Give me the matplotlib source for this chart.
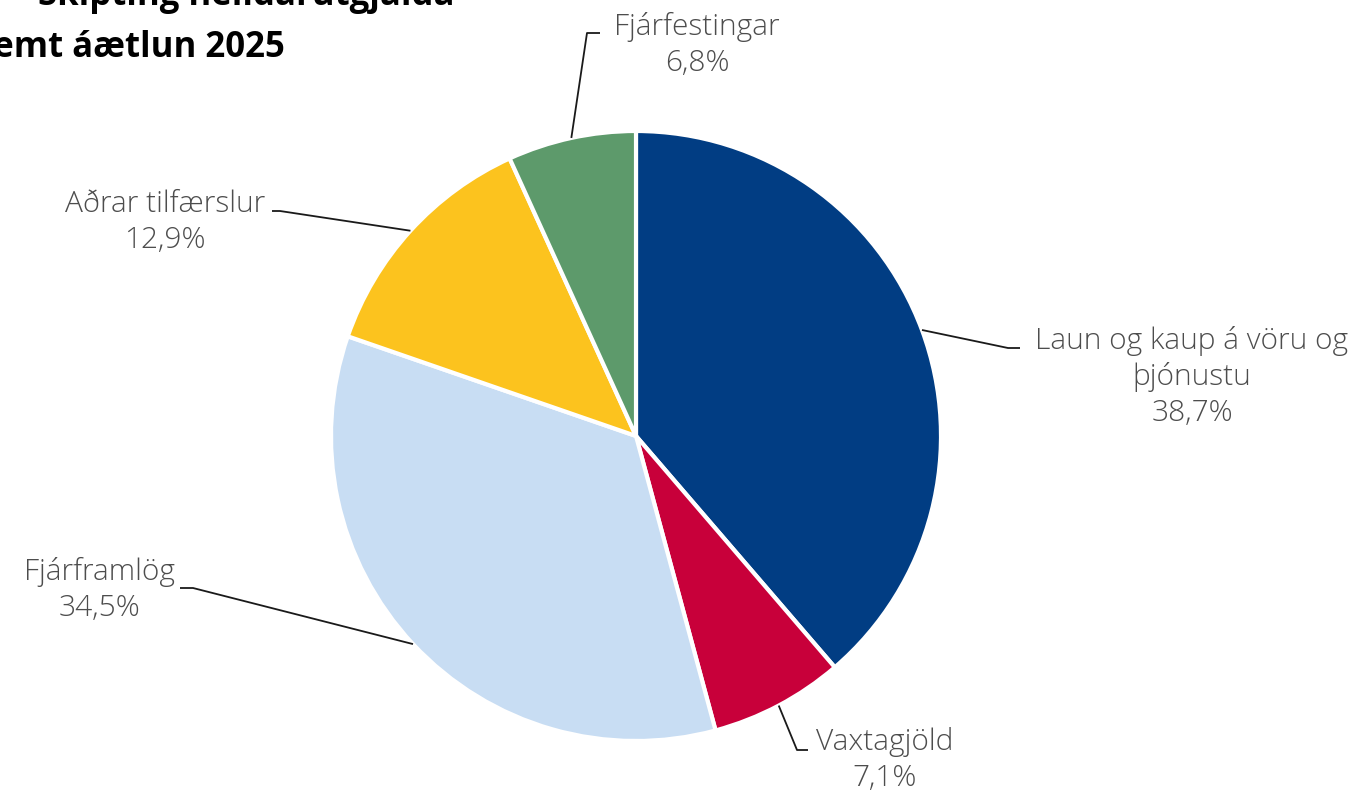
import matplotlib
matplotlib.use("Agg")
import matplotlib.pyplot as plt
import numpy as np

categories = ["Laun og kaup á vöru og\nþjónustu", "Vaxtagjöld", "Fjárframlög", "Aðrar tilfærslur", "Fjárfestingar"]
values = [38.7, 7.1, 34.5, 12.9, 6.8]
value_labels = ["38,7%", "7,1%", "34,5%", "12,9%", "6,8%"]
colors = ["#013D83", "#C8003A", "#C8DDF3", "#FCC31E", "#5D9A6B"]
title_lines = ["Skipting heildarútgjalda", "samkvæmt áætlun 2025"]

W, H = 1364, 795
fig = plt.figure(figsize=(W / 100, H / 100), dpi=100)
ax = fig.add_axes([0, 0, 1, 1])
cx, cy, R = 636, 436, 305

wedges, _ = ax.pie(values, colors=colors, startangle=90, counterclock=False,
                   radius=1, center=(0, 0),
                   wedgeprops=dict(edgecolor="white", linewidth=3))
ax.set_xlim((0 - cx) / R, (W - cx) / R)
ax.set_ylim((cy - H) / R, cy / R)
ax.axis("off")

def d(px, py):
    return ((px - cx) / R, (cy - py) / R)

# label layout: text centre, leader elbow, leader end (pixel coords)
layout = [
    ((1192, 377), (1008, 348), (1020, 348)),
    ((885, 760), (797, 750), (808, 750)),
    ((100, 590), (193, 588), (180, 588)),
    ((165, 222), (280, 211), (272, 211)),
    ((697, 45), (587, 33), (600, 33)),
]

txt_kw = dict(family=["Open Sans", "DejaVu Sans"], fontweight="light",
              color="#4d4d4d", fontsize=21.5, ha="center", va="center",
              linespacing=1.28)

for w, cat, vl, (tc, el, en) in zip(wedges, categories, value_labels, layout):
    ang = np.deg2rad((w.theta1 + w.theta2) / 2)
    sx, sy = np.cos(ang), np.sin(ang)
    ex, ey = d(*el)
    nx, ny = d(*en)
    ax.plot([sx, ex, nx], [sy, ey, ny], color="#1a1a1a", lw=1.3, solid_capstyle="butt")
    tx, ty = d(*tc)
    ax.text(tx, ty, f"{cat}\n{vl}", **txt_kw)

title_kw = dict(family=["Open Sans", "DejaVu Sans"], fontweight="bold",
                color="black", fontsize=25, ha="right", va="baseline")
fig.text(455 / W, 1 - 5 / H, title_lines[0], **title_kw)
fig.text(285 / W, 1 - 57 / H, title_lines[1], **title_kw)

fig.savefig("out.png", dpi=100, facecolor="white")
